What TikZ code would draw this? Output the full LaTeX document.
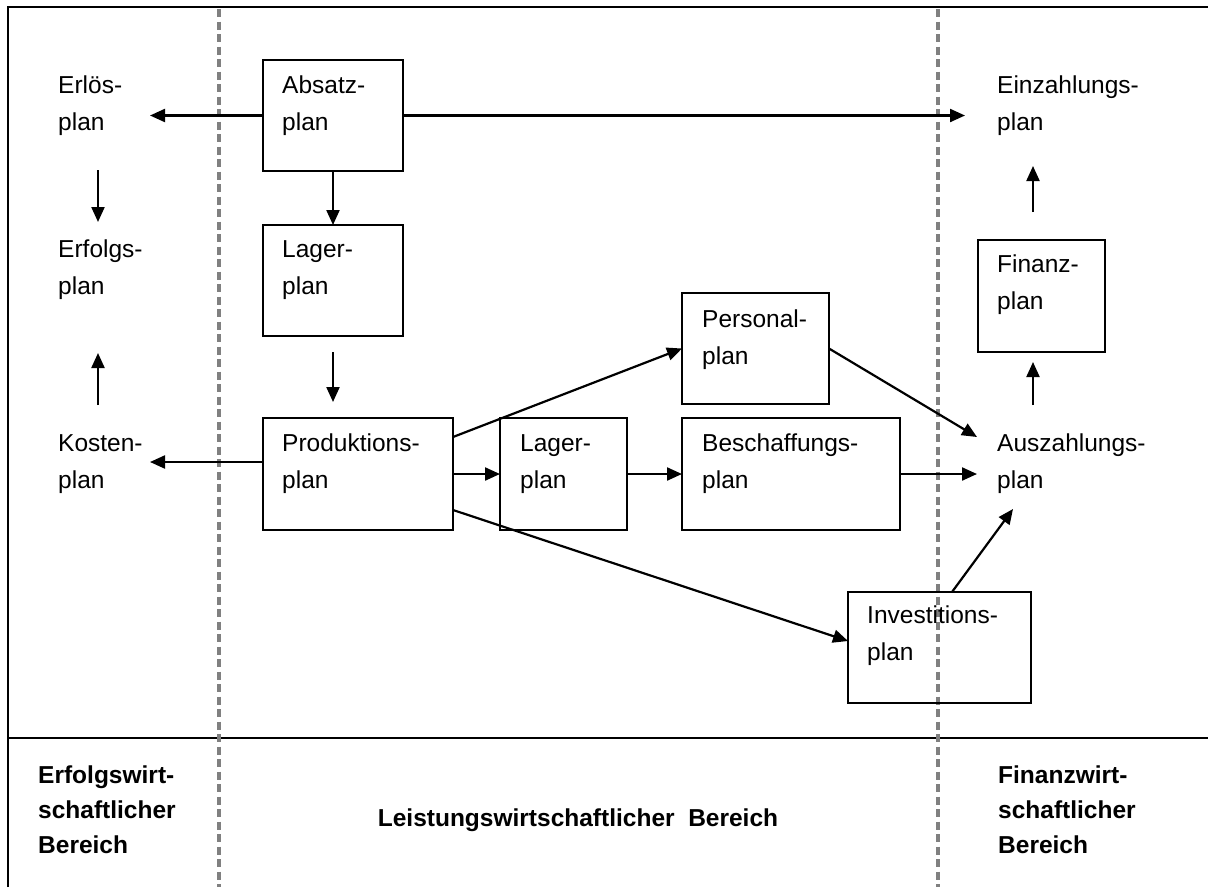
\documentclass[tikz,border=0pt]{standalone}
\usepackage{fontspec}
\setmainfont{Liberation Sans}
\usetikzlibrary{arrows.meta,calc}
\begin{document}
\begin{tikzpicture}[x=1pt,y=-1pt,
  box/.style={draw, line width=2.2pt, inner sep=0pt, outer sep=0pt, anchor=north west},
  txt/.style={anchor=north west, inner sep=0pt, align=left, font=\fontsize{24.5}{37}\selectfont},
  lbl/.style={anchor=north west, inner sep=0pt, align=left, font=\fontsize{24.5}{35}\selectfont\bfseries},
  arr/.style={line width=2.2pt, -{Triangle[length=15pt,width=13pt]}},
  sepline/.style={draw=black!50, line width=3.2pt, dash pattern=on 8pt off 4.5pt},
  frame/.style={line width=2.4pt}]
\useasboundingbox (0,0) rectangle (1208,887);
% frame
\draw[frame] (8,887) -- (8,7) -- (1208,7);
\draw[frame] (8,738) -- (1208,738);
\draw[sepline] (219,9) -- (219,887);
\draw[sepline] (938,9) -- (938,887);
% boxes
\node[box, minimum width=140pt, minimum height=111pt] (absatz) at (263,60) {};
\node[box, minimum width=140pt, minimum height=111pt] (lager1) at (263,225) {};
\node[box, minimum width=190pt, minimum height=112pt] (prod) at (263,418) {};
\node[box, minimum width=127pt, minimum height=112pt] (lager2) at (500,418) {};
\node[box, minimum width=147pt, minimum height=111pt] (personal) at (682,293) {};
\node[box, minimum width=218pt, minimum height=112pt] (besch) at (682,418) {};
\node[box, minimum width=127pt, minimum height=112pt] (finanz) at (978,240) {};
\node[box, minimum width=183pt, minimum height=111pt] (invest) at (848,592) {};
% texts
\node[txt] (erlosT) at (58,67) {\strut Erlös-\\plan};
\node[txt] (absatzT) at (282,67) {\strut Absatz-\\plan};
\node[txt] (einzT) at (997,67) {\strut Einzahlungs-\\plan};
\node[txt] (erfolgT) at (58,231) {\strut Erfolgs-\\plan};
\node[txt] (lager1T) at (282,231.5) {\strut Lager-\\plan};
\node[txt] (finanzT) at (997,246) {\strut Finanz-\\plan};
\node[txt] (personalT) at (702,301) {\strut Personal-\\plan};
\node[txt] (kostenT) at (58,425) {\strut Kosten-\\plan};
\node[txt] (prodT) at (282,425) {\strut Produktions-\\plan};
\node[txt] (lager2T) at (520,425) {\strut Lager-\\plan};
\node[txt] (beschT) at (702,425) {\strut Beschaffungs-\\plan};
\node[txt] (auszT) at (997,425) {\strut Auszahlungs-\\plan};
\node[txt] (investT) at (867,597) {\strut Investitions-\\plan};
% bottom labels
\node[lbl] (erfolgB) at (38,758.5) {\strut Erfolgswirt-\\schaftlicher\\Bereich};
\node[lbl] (finanzB) at (998,758.5) {\strut Finanzwirt-\\schaftlicher\\Bereich};
\node[anchor=base, inner sep=0pt, font=\fontsize{24.5}{35}\selectfont\bfseries] (leistB) at (578,826) {Leistungswirtschaftlicher\ \ Bereich};
% connector ends
\coordinate (erlosIn) at (150,115.5);
\coordinate (einzIn) at (965,115.5);
\coordinate (erlosOut) at (98,170);
\coordinate (erfolgIn1) at (98,222);
\coordinate (kostenOut) at (98,405);
\coordinate (erfolgIn2) at (98,353);
\coordinate (kostenIn) at (150,462);
\coordinate (lagerOut) at (333,352);
\coordinate (prodIn) at (333,402);
\coordinate (auszIn1) at (977,437);
\coordinate (auszIn2) at (977,474);
\coordinate (auszIn3) at (1013,509);
\coordinate (auszOut) at (1033,405);
\coordinate (finanzIn) at (1033,362);
\coordinate (finanzOut) at (1033,212);
\coordinate (einzIn2) at (1033,166);
% connectors
\draw[arr] (absatz.west) -- (erlosIn);
\draw[arr] (absatz.east) -- (einzIn);
\draw[arr] (absatz.south) -- (lager1.north);
\draw[arr] (erlosOut) -- (erfolgIn1);
\draw[arr] (kostenOut) -- (erfolgIn2);
\draw[arr] (lagerOut) -- (prodIn);
\draw[arr] (prod.west |- kostenIn) -- (kostenIn);
\draw[arr] (prod.east) -- (lager2.west);
\draw[arr] (lager2.east) -- (besch.west);
\draw[arr] (prod.east |- {(0,437)}) -- (personal.west);
\draw[arr] (prod.east |- {(0,510)}) -- (invest.west |- {(0,641)});
\draw[arr] (personal.east) -- (auszIn1);
\draw[arr] (besch.east) -- (auszIn2);
\draw[arr] (invest.north -| {(952,0)}) -- (auszIn3);
\draw[arr] (auszOut) -- (finanzIn);
\draw[arr] (finanzOut) -- (einzIn2);
\end{tikzpicture}
\end{document}
